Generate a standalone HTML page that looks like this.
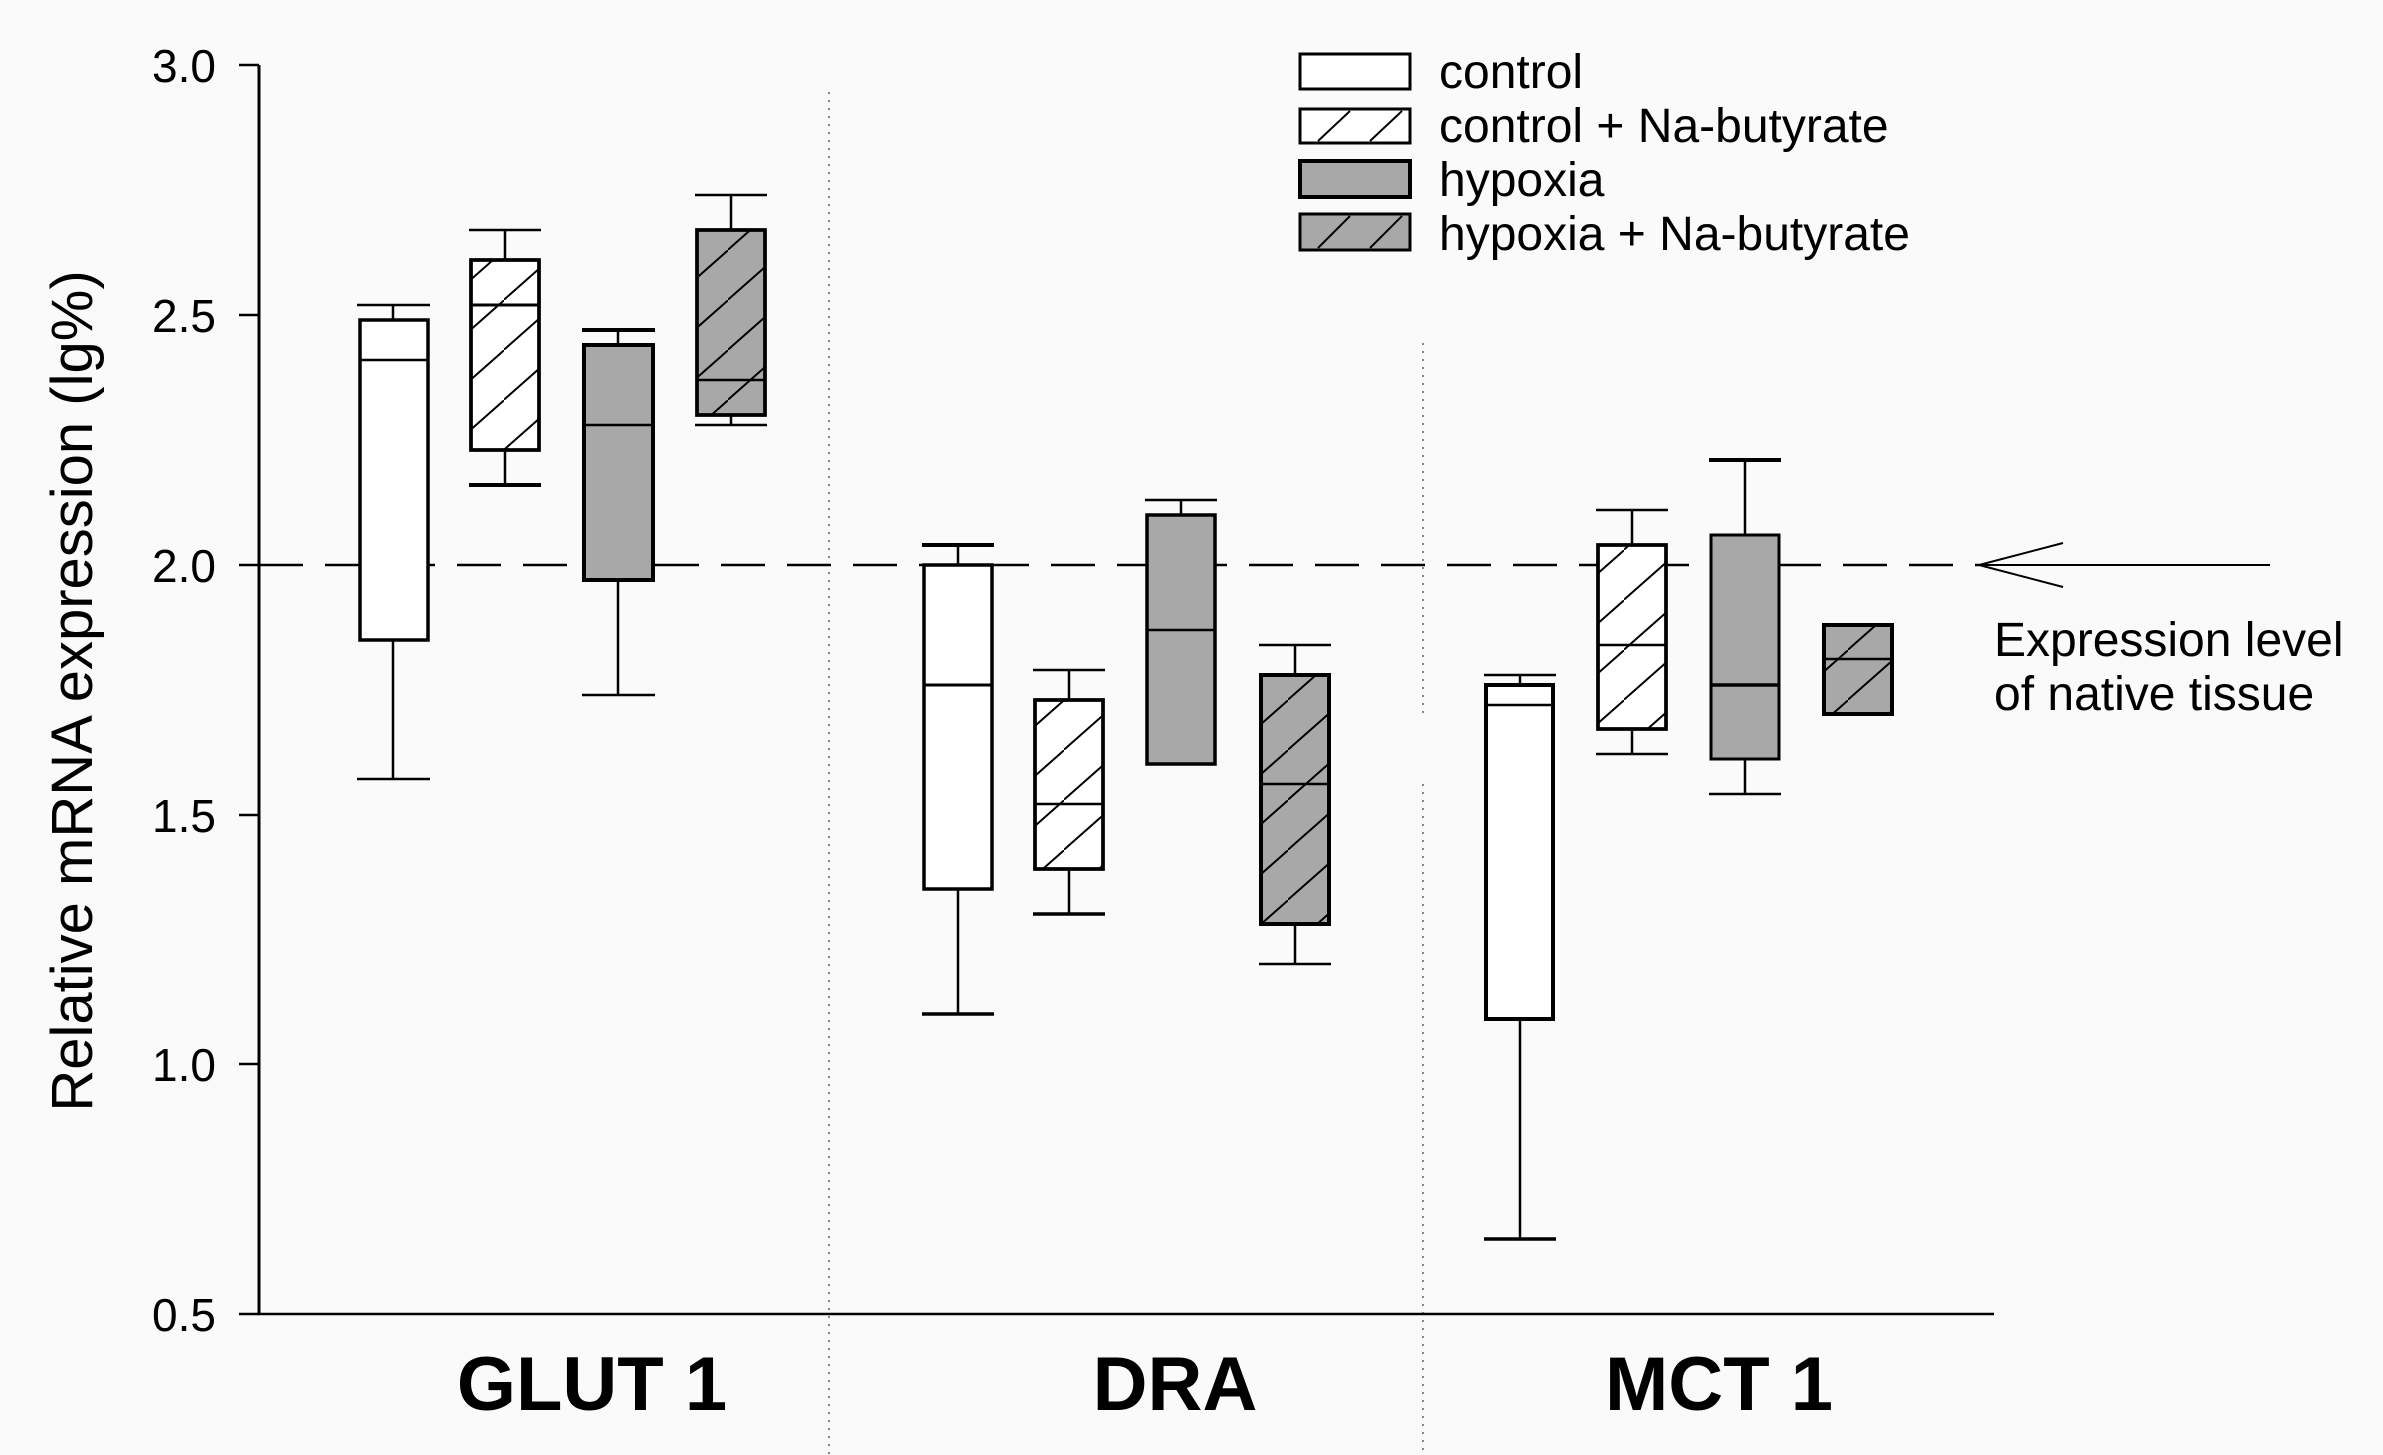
<!DOCTYPE html>
<html><head><style>body{margin:0;background:#fafafa}svg{display:block}</style></head><body>
<svg width="2383" height="1455" viewBox="0 0 2383 1455" xmlns="http://www.w3.org/2000/svg" font-family="Liberation Sans, sans-serif">
<defs>
<pattern id="h" patternUnits="userSpaceOnUse" width="56" height="50">
<line x1="-6" y1="55" x2="62" y2="-5" stroke="#000" stroke-width="2"/>
</pattern>
</defs>
<rect width="2383" height="1455" fill="#fafafa"/>
<line x1="829" y1="92" x2="829" y2="1455" stroke="#888" stroke-width="2" stroke-dasharray="2,6"/>
<line x1="1423" y1="343" x2="1423" y2="719" stroke="#888" stroke-width="2" stroke-dasharray="2,6"/>
<line x1="1423" y1="784" x2="1423" y2="1455" stroke="#888" stroke-width="2" stroke-dasharray="2,6"/>
<line x1="259" y1="65" x2="259" y2="1315" stroke="#000" stroke-width="3"/>
<line x1="258" y1="1314" x2="1994" y2="1314" stroke="#000" stroke-width="2.5"/>
<g stroke="#000" stroke-width="2.5">
<line x1="239" y1="65" x2="259" y2="65"/><line x1="239" y1="315" x2="259" y2="315"/>
<line x1="239" y1="565" x2="259" y2="565"/><line x1="239" y1="815" x2="259" y2="815"/>
<line x1="239" y1="1064" x2="259" y2="1064"/><line x1="239" y1="1314" x2="259" y2="1314"/>
</g>
<g font-size="46" text-anchor="end" fill="#000">
<text x="216" y="82">3.0</text><text x="216" y="332">2.5</text><text x="216" y="582">2.0</text>
<text x="216" y="832">1.5</text><text x="216" y="1081">1.0</text><text x="216" y="1331">0.5</text>
</g>
<text transform="translate(92,691) rotate(-90)" font-size="58" text-anchor="middle">Relative mRNA expression (lg%)</text>
<g font-size="76" font-weight="bold" text-anchor="middle">
<text x="592" y="1410">GLUT 1</text><text x="1175" y="1410">DRA</text><text x="1719" y="1410">MCT 1</text>
</g>
<line x1="259" y1="565" x2="1979" y2="565" stroke="#000" stroke-width="2.5" stroke-dasharray="44,22"/>
<line x1="1979" y1="565" x2="2270" y2="565" stroke="#000" stroke-width="2"/>
<line x1="1979" y1="565" x2="2063" y2="543" stroke="#000" stroke-width="2"/>
<line x1="1979" y1="565" x2="2063" y2="587" stroke="#000" stroke-width="2"/>
<text x="1994" y="656" font-size="48">Expression level</text>
<text x="1994" y="710" font-size="48">of native tissue</text>
<g stroke="#000" stroke-width="2.5">
<line x1="393" y1="779" x2="393" y2="305"/><line x1="357" y1="779" x2="430" y2="779"/><line x1="357" y1="305" x2="430" y2="305"/>
<rect x="360" y="320" width="68" height="320" fill="#fff" stroke-width="3.5"/><line x1="360" y1="360" x2="428" y2="360"/>
<line x1="505" y1="230" x2="505" y2="485"/><line x1="469" y1="230" x2="541" y2="230"/><line x1="469" y1="485" x2="541" y2="485" stroke-width="4"/>
<rect x="471" y="260" width="68" height="190" fill="#fff" stroke-width="3.5"/><rect x="471" y="260" width="68" height="190" fill="url(#h)" stroke-width="3.5"/><line x1="471" y1="305" x2="539" y2="305" stroke-width="3"/>
<line x1="618" y1="330" x2="618" y2="695"/><line x1="582" y1="330" x2="655" y2="330" stroke-width="4"/><line x1="582" y1="695" x2="655" y2="695"/>
<rect x="584" y="345" width="69" height="235" fill="#a8a8a8" stroke-width="4"/><line x1="584" y1="425" x2="653" y2="425"/>
<line x1="731" y1="195" x2="731" y2="425"/><line x1="695" y1="195" x2="767" y2="195"/><line x1="695" y1="425" x2="767" y2="425"/>
<rect x="697" y="230" width="68" height="185" fill="#a8a8a8" stroke-width="3.5"/><rect x="697" y="230" width="68" height="185" fill="url(#h)" stroke-width="3.5"/><line x1="697" y1="380" x2="765" y2="380"/>
<line x1="958" y1="545" x2="958" y2="1014"/><line x1="922" y1="545" x2="994" y2="545" stroke-width="4"/><line x1="922" y1="1014" x2="994" y2="1014" stroke-width="3.5"/>
<rect x="924" y="565" width="68" height="324" fill="#fff" stroke-width="3.5"/><line x1="924" y1="685" x2="992" y2="685" stroke-width="3"/>
<line x1="1069" y1="670" x2="1069" y2="914"/><line x1="1033" y1="670" x2="1105" y2="670"/><line x1="1033" y1="914" x2="1105" y2="914" stroke-width="3.5"/>
<rect x="1035" y="700" width="68" height="169" fill="#fff" stroke-width="3.5"/><rect x="1035" y="700" width="68" height="169" fill="url(#h)" stroke-width="3.5"/><line x1="1035" y1="804" x2="1103" y2="804"/>
<line x1="1181" y1="500" x2="1181" y2="515"/><line x1="1145" y1="500" x2="1217" y2="500"/>
<rect x="1147" y="515" width="68" height="249" fill="#a8a8a8" stroke-width="3.5"/><line x1="1147" y1="630" x2="1215" y2="630"/>
<line x1="1295" y1="645" x2="1295" y2="964"/><line x1="1259" y1="645" x2="1331" y2="645"/><line x1="1259" y1="964" x2="1331" y2="964"/>
<rect x="1261" y="675" width="68" height="249" fill="#a8a8a8" stroke-width="4"/><rect x="1261" y="675" width="68" height="249" fill="url(#h)" stroke-width="4"/><line x1="1261" y1="784" x2="1329" y2="784"/>
<line x1="1520" y1="675" x2="1520" y2="1239"/><line x1="1484" y1="675" x2="1556" y2="675"/><line x1="1484" y1="1239" x2="1556" y2="1239" stroke-width="3.5"/>
<rect x="1486" y="685" width="67" height="334" fill="#fff" stroke-width="4"/><line x1="1486" y1="705" x2="1553" y2="705"/>
<line x1="1632" y1="510" x2="1632" y2="754"/><line x1="1596" y1="510" x2="1668" y2="510"/><line x1="1596" y1="754" x2="1668" y2="754"/>
<rect x="1598" y="545" width="68" height="184" fill="#fff" stroke-width="3.5"/><rect x="1598" y="545" width="68" height="184" fill="url(#h)" stroke-width="3.5"/><line x1="1598" y1="645" x2="1666" y2="645"/>
<line x1="1745" y1="460" x2="1745" y2="794"/><line x1="1709" y1="460" x2="1781" y2="460" stroke-width="4"/><line x1="1709" y1="794" x2="1781" y2="794"/>
<rect x="1711" y="535" width="68" height="224" fill="#a8a8a8" stroke-width="3"/><line x1="1711" y1="685" x2="1779" y2="685" stroke-width="3.5"/>
<rect x="1824" y="625" width="68" height="89" fill="#a8a8a8" stroke-width="4"/><rect x="1824" y="625" width="68" height="89" fill="url(#h)" stroke-width="4"/><line x1="1824" y1="659" x2="1892" y2="659"/>
</g>
<g stroke="#000" stroke-width="3">
<rect x="1300" y="54" width="110" height="35" fill="#fff"/>
<rect x="1300" y="109" width="110" height="34" fill="#fff"/>
<line x1="1318" y1="141" x2="1350" y2="111" stroke-width="2"/><line x1="1370" y1="141" x2="1402" y2="111" stroke-width="2"/>
<rect x="1300" y="161" width="110" height="36" fill="#a8a8a8" stroke-width="4"/>
<rect x="1300" y="214" width="110" height="36" fill="#a8a8a8"/>
<line x1="1318" y1="248" x2="1350" y2="216" stroke-width="2"/><line x1="1370" y1="248" x2="1402" y2="216" stroke-width="2"/>
</g>
<g font-size="48">
<text x="1439" y="88">control</text>
<text x="1439" y="142">control + Na-butyrate</text>
<text x="1439" y="196">hypoxia</text>
<text x="1439" y="250">hypoxia + Na-butyrate</text>
</g>
</svg>
</body></html>
